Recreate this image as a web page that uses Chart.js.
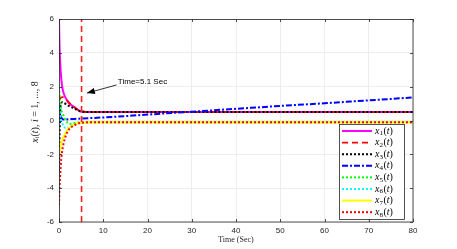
<!DOCTYPE html>
<html><head><meta charset="utf-8">
<script src="https://cdn.jsdelivr.net/npm/chart.js@4"></script>
<style>html,body{margin:0;padding:0;background:#fff;}canvas{display:block}</style>
</head><body><canvas id="c" width="457" height="249"></canvas>
<script>
// ---- data ----
const T  = [0, 0.1, 0.25, 0.5, 0.75, 1, 1.5, 2, 2.5, 3, 4, 5.1, 10, 20, 30, 40, 50, 60, 70, 80];
const X1 = [6, 4.6, 3.5, 2.5, 1.95, 1.65, 1.32, 1.12, 0.98, 0.87, 0.68, 0.52, 0.5, 0.5, 0.5, 0.5, 0.5, 0.5, 0.5, 0.5];
const X2 = [1.2, 1.25, 1.3, 1.36, 1.38, 1.38, 1.3, 1.13, 0.99, 0.88, 0.68, 0.52, 0.5, 0.5, 0.5, 0.5, 0.5, 0.5, 0.5, 0.5];
const X3 = [-3, -1.2, 0.4, 1.0, 1.08, 1.05, 0.98, 0.9, 0.83, 0.77, 0.64, 0.52, 0.5, 0.5, 0.5, 0.5, 0.5, 0.5, 0.5, 0.5];
const X4 = [1.0, 0.75, 0.45, 0.2, 0.1, 0.06, 0.06, 0.07, 0.08, 0.09, 0.1, 0.12, 0.18, 0.35, 0.52, 0.69, 0.86, 1.02, 1.19, 1.36];
const X5 = [2.0, 1.6, 1.15, 0.65, 0.45, 0.3, 0.02, -0.15, -0.2, -0.17, -0.12, -0.1, -0.1, -0.1, -0.1, -0.1, -0.1, -0.1, -0.1, -0.1];
const X6 = [1.0, 0.75, 0.4, 0.0, -0.18, -0.3, -0.45, -0.45, -0.38, -0.3, -0.19, -0.12, -0.1, -0.1, -0.1, -0.1, -0.1, -0.1, -0.1, -0.1];
const X7 = [-2.0, -1.85, -1.65, -1.35, -1.15, -1.0, -0.72, -0.52, -0.4, -0.31, -0.18, -0.12, -0.1, -0.1, -0.1, -0.1, -0.1, -0.1, -0.1, -0.1];
const X8 = [-5, -4.1, -3.3, -2.3, -1.75, -1.4, -0.92, -0.62, -0.46, -0.35, -0.21, -0.13, -0.1, -0.1, -0.1, -0.1, -0.1, -0.1, -0.1, -0.1];
const SERIES = [X1, X2, X3, X4, X5, X6, X7, X8];
const LABEL_IDX = ['1','2','3','4','5','6','7','8'];
const X_TICKS = [0, 10, 20, 30, 40, 50, 60, 70, 80];
const Y_TICKS = [-6, -4, -2, 0, 2, 4, 6];
const MARK_T = 5.1;
const ANNOT_TEXT = 'Time=5.1 Sec';
const ANNOT_TIP = [6.3, 1.62];
const ANNOT_TAIL = [13.0, 2.1];
const ANNOT_POS = [13.3, 2.3];
const X_TITLE = 'Time (Sec)';

// ---- styles ----
const COLORS = ['#ff00ff', '#ff0000', '#000000', '#0000ff', '#00ff00', '#00ffff', '#ffff00', '#ff0000'];
const DASHES = [[], [6, 4], [2, 2], [6, 2, 2, 2], [2, 2], [2, 2], [], [2, 2]];
const WIDTHS = [2, 1.8, 2, 2, 2, 2, 2, 2];

const datasets = SERIES.map((s, k) => ({
  label: 'x' + LABEL_IDX[k] + '(t)',
  data: T.map((t, i) => ({x: t, y: s[i]})),
  borderColor: COLORS[k], borderWidth: WIDTHS[k], borderDash: DASHES[k],
  pointRadius: 0, cubicInterpolationMode: 'monotone', fill: false,
  borderCapStyle: 'butt', order: 8 - k
}));
datasets.push({
  label: 'mark', data: [{x: MARK_T, y: -6}, {x: MARK_T, y: 6}],
  borderColor: '#ff2020', borderWidth: 1.6, borderDash: [6, 4], pointRadius: 0, order: -1
});

const TXT = '#262626';
const overlay = {
  id: 'overlay',
  afterDraw(chart) {
    const {ctx, chartArea: a, scales: {x, y}} = chart;
    ctx.save();
    // frame
    ctx.strokeStyle = '#262626'; ctx.lineWidth = 0.8;
    ctx.strokeRect(a.left + 0.5, a.top + 0.5, a.right - a.left - 0.5, a.bottom - a.top - 0.5);
    // inside ticks
    ctx.beginPath();
    X_TICKS.forEach(v => { const px = Math.round(x.getPixelForValue(v)) + 0.5;
      ctx.moveTo(px, a.bottom); ctx.lineTo(px, a.bottom - 3);
      ctx.moveTo(px, a.top); ctx.lineTo(px, a.top + 3); });
    Y_TICKS.forEach(v => { const py = Math.round(y.getPixelForValue(v)) + 0.5;
      ctx.moveTo(a.left, py); ctx.lineTo(a.left + 3, py);
      ctx.moveTo(a.right, py); ctx.lineTo(a.right - 3, py); });
    ctx.stroke();
    // annotation
    const tx = x.getPixelForValue(ANNOT_TIP[0]), ty = y.getPixelForValue(ANNOT_TIP[1]);
    const sx = x.getPixelForValue(ANNOT_TAIL[0]), sy = y.getPixelForValue(ANNOT_TAIL[1]);
    ctx.strokeStyle = '#000'; ctx.lineWidth = 0.8;
    ctx.beginPath(); ctx.moveTo(sx, sy); ctx.lineTo(tx, ty); ctx.stroke();
    const ang = Math.atan2(ty - sy, tx - sx);
    ctx.fillStyle = '#000'; ctx.beginPath();
    ctx.moveTo(tx, ty);
    ctx.lineTo(tx - 8 * Math.cos(ang) + 3 * Math.sin(ang), ty - 8 * Math.sin(ang) - 3 * Math.cos(ang));
    ctx.lineTo(tx - 8 * Math.cos(ang) - 3 * Math.sin(ang), ty - 8 * Math.sin(ang) + 3 * Math.cos(ang));
    ctx.closePath(); ctx.fill();
    ctx.font = '8px "Liberation Sans", Arial, sans-serif';
    ctx.textBaseline = 'middle'; ctx.textAlign = 'left';
    ctx.fillText(ANNOT_TEXT, x.getPixelForValue(ANNOT_POS[0]), y.getPixelForValue(ANNOT_POS[1]));
    // x title
    ctx.fillStyle = TXT;
    ctx.font = '8px "Liberation Serif", serif'; ctx.textAlign = 'center';
    ctx.fillText(X_TITLE, (a.left + a.right) / 2, 240);
    // y title (rotated)
    ctx.save();
    ctx.translate(35, 112); ctx.rotate(-Math.PI / 2);
    const parts = [['x', 'italic 10px "Liberation Serif", serif', 0], ['i', 'italic 7px "Liberation Serif", serif', 2.5],
      ['(', '10px "Liberation Serif", serif', 0], ['t', 'italic 10px "Liberation Serif", serif', 0],
      [')', '10px "Liberation Serif", serif', 0], [', ', '10px "Liberation Serif", serif', 0],
      ['i', 'italic 10px "Liberation Serif", serif', 0], [' = 1, ..., 8', '10px "Liberation Serif", serif', 0]];
    let w = 0; parts.forEach(p => { ctx.font = p[1]; w += ctx.measureText(p[0]).width; });
    let cx = -w / 2; ctx.textAlign = 'left'; ctx.textBaseline = 'middle';
    parts.forEach(p => { ctx.font = p[1]; ctx.fillText(p[0], cx, p[2]); cx += ctx.measureText(p[0]).width; });
    ctx.restore();
    // legend
    const L = 339, Tp = 124, R = 404, B = 219;
    ctx.fillStyle = '#fff'; ctx.fillRect(L, Tp, R - L, B - Tp);
    ctx.strokeStyle = '#262626'; ctx.lineWidth = 0.8; ctx.strokeRect(L + 0.5, Tp + 0.5, R - L, B - Tp);
    for (let k = 0; k < 8; k++) {
      const ey = 131 + k * 11.6;
      ctx.strokeStyle = COLORS[k]; ctx.lineWidth = WIDTHS[k]; ctx.setLineDash(DASHES[k]); ctx.lineCap = 'butt';
      ctx.beginPath(); ctx.moveTo(342, ey); ctx.lineTo(372, ey); ctx.stroke();
      ctx.setLineDash([]);
      ctx.fillStyle = '#000'; ctx.textBaseline = 'middle'; ctx.textAlign = 'left';
      let lx = 375;
      ctx.font = 'italic 10px "Liberation Serif", serif'; ctx.fillText('x', lx, ey); lx += ctx.measureText('x').width;
      ctx.font = '7px "Liberation Serif", serif'; ctx.fillText(LABEL_IDX[k], lx, ey + 2.5); lx += ctx.measureText(LABEL_IDX[k]).width + 0.5;
      ctx.font = '10px "Liberation Serif", serif'; ctx.fillText('(', lx, ey); lx += ctx.measureText('(').width;
      ctx.font = 'italic 10px "Liberation Serif", serif'; ctx.fillText('t', lx, ey); lx += ctx.measureText('t').width;
      ctx.font = '10px "Liberation Serif", serif'; ctx.fillText(')', lx, ey);
    }
    ctx.restore();
  }
};

new Chart(document.getElementById('c'), {
  type: 'line',
  data: {datasets},
  options: {
    responsive: false, animation: false, devicePixelRatio: 1,
    layout: {padding: {left: 0, right: 44, top: 19, bottom: 0}},
    plugins: {legend: {display: false}, tooltip: {enabled: false}},
    scales: {
      x: {type: 'linear', min: 0, max: 80,
        afterBuildTicks: s => { s.ticks = X_TICKS.map(v => ({value: v})); },
        afterFit: s => { s.height = 27; },
        grid: {color: '#e8e8e8', drawTicks: false, lineWidth: 0.8},
        border: {display: false},
        ticks: {padding: 4, color: TXT, font: {family: '"Liberation Sans", Arial, sans-serif', size: 8}, maxRotation: 0}},
      y: {min: -6, max: 6,
        afterBuildTicks: s => { s.ticks = Y_TICKS.map(v => ({value: v})); },
        afterFit: s => { s.width = 59; },
        grid: {color: '#e8e8e8', drawTicks: false, lineWidth: 0.8},
        border: {display: false},
        ticks: {padding: 5, color: TXT, font: {family: '"Liberation Sans", Arial, sans-serif', size: 8}}}
    }
  },
  plugins: [overlay]
});
</script>
</body></html>
